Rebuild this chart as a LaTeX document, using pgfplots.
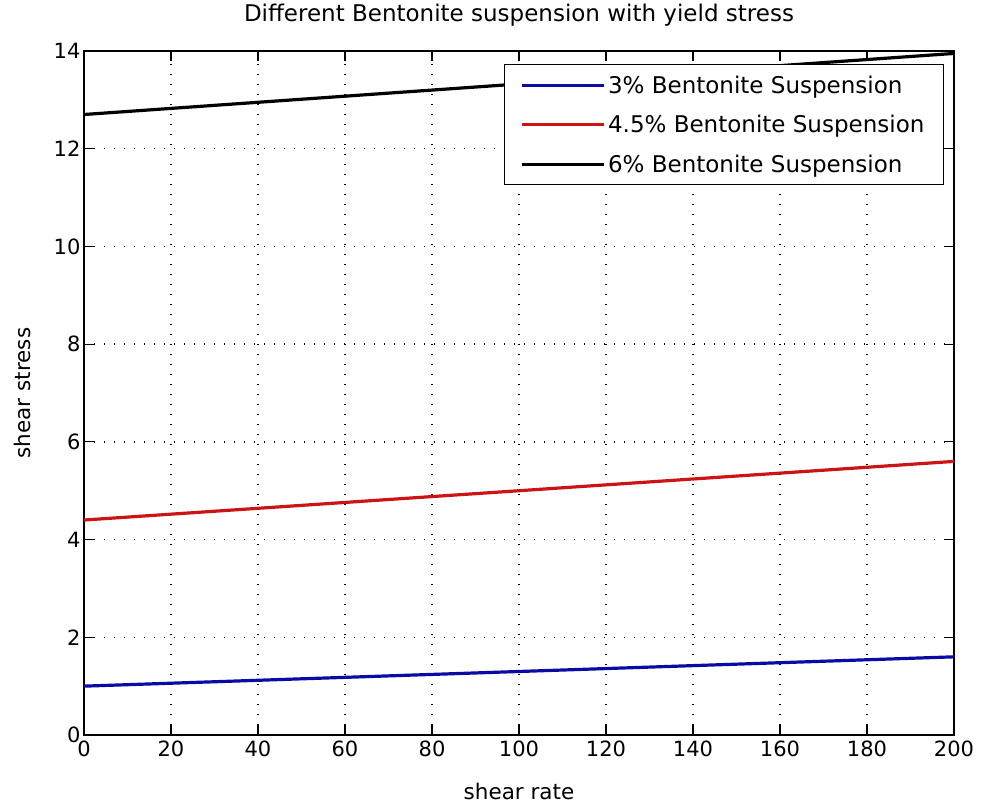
\documentclass[border=0pt]{standalone}
\usepackage{pgfplots}
\pgfplotsset{compat=1.18}
\usepackage{fontspec}
\setmainfont{DejaVu Sans}
\definecolor{mblue}{RGB}{10,10,165}
\definecolor{mred}{RGB}{205,20,20}
\begin{document}
\begin{tikzpicture}
\begin{axis}[
  width=870pt, height=684pt, scale only axis,
  xmin=0, xmax=200, ymin=0, ymax=14,
  xtick={0,20,...,200}, ytick={0,2,...,14},
  tick align=inside, tick pos=both,
  major tick length=10pt,
  axis line style={line width=1.2pt},
  every tick/.style={black, line width=1.2pt},
  grid=major,
  major grid style={black, line width=1.3pt, dash pattern=on 1.3pt off 8.7pt},
  /pgf/number format/assume math mode=true,
  every tick label/.append style={font=\fontsize{21}{25}\selectfont},
  xticklabel style={yshift=-2pt},
  title={Different Bentonite suspension with yield stress},
  title style={font=\fontsize{23}{27}\selectfont, at={(axis description cs:0.5,1)}, anchor=base, yshift=23pt},
  xlabel={shear rate},
  xlabel style={font=\fontsize{21.5}{26}\selectfont, at={(axis description cs:0.5,0)}, anchor=base, yshift=-64pt},
  ylabel={shear stress},
  ylabel style={font=\fontsize{21.5}{26}\selectfont, at={(axis description cs:0,0.5)}, anchor=center, yshift=62pt},
  legend style={at={(axis description cs:1,1)}, anchor=north east, xshift=-10pt, yshift=-13pt,
    font=\fontsize{23}{27}\selectfont, draw=black, line width=1.2pt, inner xsep=16pt, inner ysep=8pt,
    row sep=14.5pt, nodes={inner sep=3pt}},
  legend cell align=left,
  legend image code/.code={\draw[#1, line width=3pt] (0pt,0pt) -- (82pt,0pt);},
]
\addplot[mblue, line width=3.2pt] coordinates {(0,1.0) (200,1.6)};
\addlegendentry{3\% Bentonite Suspension}
\addplot[mred, line width=3.2pt] coordinates {(0,4.4) (200,5.6)};
\addlegendentry{4.5\% Bentonite Suspension}
\addplot[black, line width=3.2pt] coordinates {(0,12.7) (200,13.95)};
\addlegendentry{6\% Bentonite Suspension}
\coordinate (SW) at (rel axis cs:0,0);
\coordinate (NE) at (rel axis cs:1,1);
\end{axis}
\pgfresetboundingbox
\path ([shift={(-84pt,-71pt)}]SW) rectangle ([shift={(27pt,51pt)}]NE);
\end{tikzpicture}
\end{document}
